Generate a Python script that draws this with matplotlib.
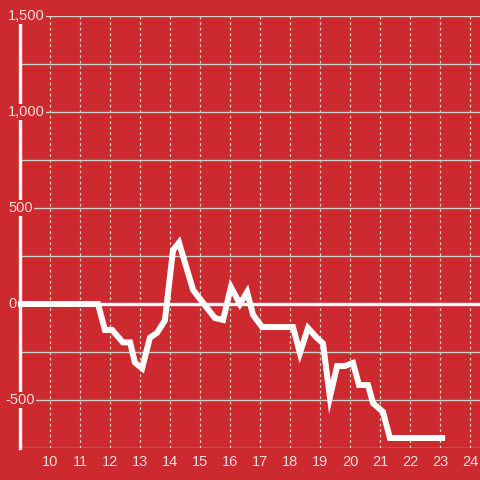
import matplotlib
matplotlib.use("Agg")
import matplotlib.pyplot as plt
from matplotlib.transforms import blended_transform_factory

# hour of day vs running value
hours = [8.9, 11.6, 11.83, 12.07, 12.43, 12.67, 12.83, 13.07, 13.33, 13.57,
         13.83, 14.1, 14.3, 14.77, 15.23, 15.5, 15.77, 16.03, 16.33, 16.57,
         16.77, 17.07, 18.1, 18.33, 18.6, 18.9, 19.1, 19.33, 19.57, 19.83,
         20.1, 20.3, 20.6, 20.77, 21.1, 21.33, 23.17]
values = [0, 0, -135, -135, -200, -200, -305, -335, -175, -150,
          -85, 280, 320, 73, -20, -73, -83, 88, 0, 62,
          -57, -120, -120, -255, -125, -177, -205, -485, -323, -323,
          -307, -422, -422, -517, -562, -698, -698]

x_ticks = list(range(10, 25))
y_grid = [-750, -500, -250, 0, 250, 500, 750, 1000, 1250, 1500]
y_labels = {1500: "1,500", 1000: "1,000", 500: "500", 0: "0", -500: "-500"}

bg = "#cc2a2f"
grid_col = "#cfcfcf"
text_col = "#f3dcdc"

plt.rcParams["font.family"] = ["Liberation Sans", "DejaVu Sans"]

fig = plt.figure(figsize=(4.8, 4.8), dpi=100)
fig.patch.set_facecolor(bg)
ax = fig.add_axes([20 / 480, 32 / 480, 460 / 480, 432 / 480])
ax.set_facecolor(bg)

ax.set_xlim(9, 9 + 460 / 30)
ax.set_ylim(-750, 1500)

# grid
for y in y_grid:
    ax.axhline(y, color=grid_col, lw=1.0, zorder=1)
for x in x_ticks:
    ax.axvline(x, color=grid_col, lw=0.9, ls=(0, (2.2, 2.2)), zorder=1)

# zero line
ax.axhline(0, xmin=-0.007, color="white", lw=2.4, zorder=2, clip_on=False)

ax.plot(hours, values, color="white", lw=4.3, solid_capstyle="butt",
        solid_joinstyle="miter", zorder=3, clip_on=False)

for s in ["top", "right", "bottom"]:
    ax.spines[s].set_visible(False)
ax.spines["left"].set_color("white")
ax.spines["left"].set_linewidth(2.4)
ax.spines["left"].set_zorder(4)

ax.set_yticks([])
ax.set_xticks(x_ticks)
ax.set_xticklabels([str(x) for x in x_ticks], color=text_col, fontsize=10.5)
ax.tick_params(axis="x", length=0, pad=5)

trans = blended_transform_factory(fig.transFigure, ax.transData)
for y, lab in y_labels.items():
    x0 = 5.5 if lab.startswith("-") else 8.0
    ax.text(x0 / 480, y, lab, transform=trans, ha="left", va="center",
            color=text_col, fontsize=10.5, zorder=10, clip_on=False,
            bbox=dict(facecolor=bg, edgecolor="none", pad=1.0))

fig.savefig("out.png", dpi=100, facecolor=bg)
